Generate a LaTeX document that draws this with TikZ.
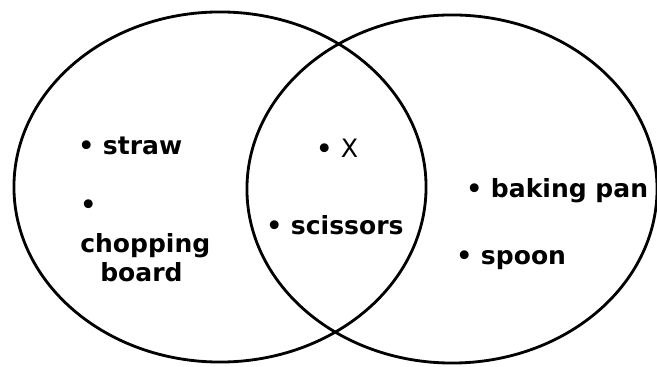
\documentclass[tikz,border=0pt]{standalone}
\usepackage{fontspec}
\setmainfont{DejaVu Sans}
\usepackage{tikz}
\usetikzlibrary{shapes.geometric,positioning}

\begin{document}
\begin{tikzpicture}[x=0.025cm, y=0.025cm,
    every node/.style={font=\fontsize{17.8}{21.3}\selectfont\bfseries},
    setring/.style={draw, ellipse, line width=2pt, inner sep=0pt},
    item/.style={anchor=base west, inner sep=0pt, align=left}]
            \useasboundingbox (0,0) rectangle (657,367);
            \node[setring, minimum width=10.3cm, minimum height=8.75cm] (setA) at (220,180) {};
            \node[setring, minimum width=10.25cm, minimum height=8.7cm] (setB) at (452,178) {};
            \node[item] (straw) at (78,212) {• straw};
            \node[item] (board) at (80,85) {•\\[0.35em]chopping\\\hspace*{0.8em}board};
            \node[item] (xitem) at (316,209) {• {\fontsize{18}{21}\selectfont\mdseries X}};
            \node[item] (scissors) at (266,132) {• scissors};
            \node[item] (pan) at (466,169) {• baking pan};
            \node[item] (spoon) at (456,102) {• spoon};
        \end{tikzpicture}
\end{document}
